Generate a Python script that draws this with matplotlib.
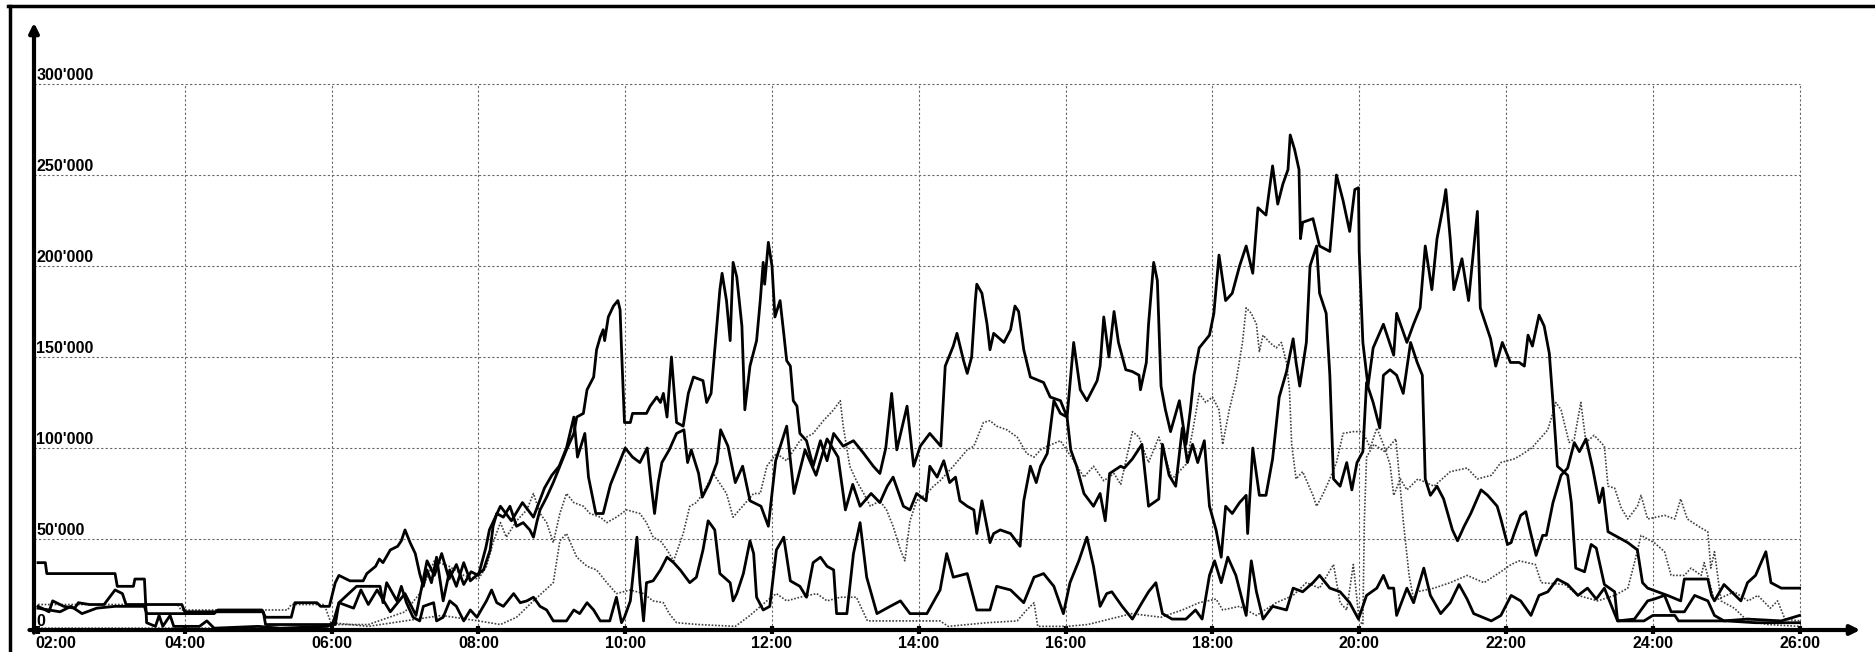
import matplotlib.pyplot as plt
from matplotlib.lines import Line2D
import matplotlib.transforms as mtransforms

plt.rcParams['font.family'] = ['Liberation Sans', 'DejaVu Sans']

# hour of day, value in thousands
series_a = [(2.0, 12), (2.3, 10), (2.45, 13), (2.6, 9), (2.8, 12), (3.05, 13), (3.45, 13), (3.48, 9), (4.4, 9),
            (4.45, 11), (5.05, 11), (5.1, 7), (5.45, 7), (5.5, 15), (5.8, 15), (5.85, 13), (5.97, 13), (6.0, 18),
            (6.05, 26), (6.1, 30), (6.25, 27), (6.43, 27), (6.48, 31), (6.6, 35), (6.65, 39), (6.7, 37), (6.8, 44),
            (6.9, 46), (6.95, 49), (7.0, 55), (7.07, 48), (7.14, 42), (7.2, 31), (7.25, 24), (7.3, 33), (7.36, 26),
            (7.43, 40), (7.52, 16), (7.61, 33), (7.7, 24), (7.8, 37), (7.89, 27), (8.0, 31), (8.07, 33), (8.16, 44),
            (8.2, 57), (8.25, 64), (8.34, 62), (8.43, 68), (8.52, 57), (8.61, 59), (8.7, 55), (8.75, 51), (8.8, 60),
            (8.84, 66), (8.93, 73), (9.02, 81), (9.11, 90), (9.2, 99), (9.3, 108), (9.34, 117), (9.43, 119),
            (9.48, 132), (9.57, 139), (9.61, 154), (9.66, 161), (9.7, 165), (9.72, 159), (9.77, 172), (9.84, 178),
            (9.9, 181), (9.93, 176), (9.95, 154), (9.99, 114), (10.07, 114), (10.1, 119), (10.29, 119), (10.34, 123),
            (10.43, 128), (10.48, 125), (10.52, 130), (10.57, 117), (10.63, 150), (10.7, 114), (10.79, 112),
            (10.86, 130), (10.93, 139), (11.06, 137), (11.11, 125), (11.17, 130), (11.22, 154), (11.29, 187),
            (11.32, 196), (11.38, 181), (11.43, 159), (11.45, 181), (11.47, 202), (11.52, 194), (11.59, 167),
            (11.63, 121), (11.7, 145), (11.79, 159), (11.84, 181), (11.88, 202), (11.9, 190), (11.95, 213),
            (12.0, 200), (12.04, 172), (12.11, 181), (12.16, 163), (12.2, 148), (12.25, 145), (12.29, 126),
            (12.34, 123), (12.38, 108), (12.47, 104), (12.56, 90), (12.66, 104), (12.75, 93), (12.84, 108),
            (12.97, 101), (13.11, 104), (13.25, 97), (13.38, 90), (13.47, 86), (13.55, 100), (13.63, 130),
            (13.7, 99), (13.84, 123), (13.93, 90), (14.02, 101), (14.15, 108), (14.3, 101), (14.36, 145),
            (14.47, 156), (14.52, 163), (14.61, 148), (14.66, 141), (14.72, 150), (14.77, 181), (14.79, 190),
            (14.86, 185), (14.93, 168), (14.97, 154), (15.02, 163), (15.16, 158), (15.25, 165), (15.31, 178),
            (15.36, 175), (15.43, 154), (15.52, 139), (15.7, 136), (15.79, 128), (15.93, 126), (16.02, 117),
            (16.11, 158), (16.2, 132), (16.29, 126), (16.43, 137), (16.47, 145), (16.52, 172), (16.59, 150),
            (16.66, 175), (16.72, 158), (16.82, 143), (16.91, 142), (17.0, 140), (17.02, 132), (17.1, 147),
            (17.13, 168), (17.2, 202), (17.25, 192), (17.3, 134), (17.36, 121), (17.43, 109), (17.55, 126),
            (17.64, 102), (17.7, 121), (17.75, 140), (17.82, 155), (17.96, 162), (18.02, 174), (18.09, 206),
            (18.18, 181), (18.27, 185), (18.37, 200), (18.46, 211), (18.55, 196), (18.62, 232), (18.73, 228),
            (18.82, 255), (18.89, 234), (18.96, 245), (19.03, 253), (19.06, 272), (19.12, 264), (19.18, 253),
            (19.2, 215), (19.23, 224), (19.37, 226), (19.46, 211), (19.6, 208), (19.69, 250), (19.78, 236),
            (19.87, 219), (19.94, 242), (19.99, 243), (20.0, 208), (20.05, 158), (20.12, 134), (20.19, 155),
            (20.33, 168), (20.47, 151), (20.51, 174), (20.65, 158), (20.74, 168), (20.83, 177), (20.9, 211),
            (20.99, 187), (21.06, 215), (21.15, 234), (21.18, 242), (21.24, 215), (21.29, 187), (21.4, 204),
            (21.49, 181), (21.61, 230), (21.65, 177), (21.79, 160), (21.86, 145), (21.95, 158), (22.06, 147),
            (22.18, 147), (22.25, 145), (22.3, 162), (22.36, 156), (22.45, 173), (22.52, 167), (22.59, 152),
            (22.64, 125), (22.7, 90), (22.84, 85), (22.89, 70), (22.95, 34), (23.07, 32), (23.16, 47), (23.23, 45),
            (23.34, 25), (23.48, 21), (23.52, 5), (23.88, 5), (24.0, 8), (24.3, 8), (24.35, 5), (25.0, 5),
            (25.4, 4), (26.0, 4)]

series_b = [(2.0, 13), (2.15, 10), (2.2, 16), (2.35, 13), (2.5, 12), (2.55, 15), (2.7, 14), (2.9, 14), (3.05, 22),
            (3.15, 20), (3.2, 14), (3.96, 14), (4.0, 10), (5.07, 10), (5.1, 3), (6.05, 3), (6.1, 15), (6.3, 12),
            (6.4, 22), (6.5, 14), (6.62, 22), (6.8, 10), (7.0, 20), (7.15, 8), (7.3, 38), (7.4, 30), (7.5, 42),
            (7.6, 28), (7.7, 36), (7.8, 25), (7.9, 32), (8.0, 30), (8.1, 45), (8.15, 55), (8.3, 68), (8.45, 60),
            (8.6, 70), (8.75, 62), (8.9, 78), (9.0, 85), (9.1, 90), (9.2, 100), (9.3, 117), (9.35, 95), (9.45, 108),
            (9.5, 84), (9.6, 64), (9.7, 64), (9.8, 80), (9.9, 90), (10.0, 100), (10.1, 95), (10.2, 92), (10.3, 100),
            (10.35, 81), (10.4, 64), (10.45, 81), (10.5, 92), (10.6, 99), (10.7, 108), (10.8, 110), (10.85, 92),
            (10.9, 99), (11.0, 86), (11.05, 73), (11.15, 81), (11.25, 92), (11.3, 110), (11.4, 101), (11.5, 81),
            (11.6, 90), (11.7, 71), (11.85, 68), (11.95, 57), (12.05, 93), (12.2, 112), (12.3, 75), (12.45, 99),
            (12.6, 85), (12.75, 105), (12.9, 95), (13.0, 66), (13.1, 80), (13.2, 68), (13.35, 75), (13.47, 70),
            (13.57, 79), (13.65, 84), (13.79, 68), (13.88, 66), (13.97, 75), (14.1, 71), (14.15, 90), (14.25, 84),
            (14.34, 93), (14.42, 81), (14.5, 84), (14.56, 71), (14.66, 68), (14.75, 66), (14.79, 53), (14.86, 71),
            (14.97, 48), (15.02, 53), (15.11, 55), (15.25, 53), (15.38, 46), (15.43, 71), (15.52, 90), (15.6, 81),
            (15.66, 90), (15.75, 97), (15.84, 126), (15.93, 119), (16.02, 117), (16.07, 99), (16.15, 90),
            (16.25, 75), (16.38, 68), (16.47, 75), (16.54, 60), (16.6, 86), (16.75, 90), (16.8, 89), (16.91, 94),
            (17.04, 102), (17.13, 68), (17.27, 72), (17.32, 102), (17.41, 85), (17.5, 79), (17.59, 111),
            (17.66, 92), (17.73, 102), (17.8, 92), (17.89, 104), (17.96, 68), (18.05, 55), (18.12, 40), (18.18, 68),
            (18.27, 64), (18.37, 70), (18.46, 74), (18.48, 53), (18.55, 100), (18.64, 74), (18.73, 74), (18.82, 94),
            (18.91, 128), (19.01, 142), (19.1, 160), (19.14, 147), (19.19, 134), (19.28, 158), (19.33, 200),
            (19.42, 211), (19.46, 185), (19.55, 174), (19.6, 140), (19.65, 83), (19.74, 79), (19.83, 92),
            (19.9, 77), (19.97, 92), (20.05, 98), (20.1, 136), (20.19, 125), (20.28, 111), (20.33, 140),
            (20.42, 143), (20.51, 140), (20.6, 130), (20.7, 158), (20.79, 147), (20.86, 140), (20.9, 83),
            (20.97, 74), (21.06, 79), (21.15, 72), (21.27, 55), (21.34, 49), (21.43, 57), (21.52, 64), (21.66, 77),
            (21.75, 74), (21.88, 68), (21.93, 61), (22.02, 47), (22.07, 48), (22.11, 53), (22.2, 63), (22.27, 65),
            (22.32, 56), (22.41, 41), (22.5, 52), (22.55, 52), (22.64, 70), (22.75, 85), (22.84, 89), (22.93, 103),
            (23.0, 98), (23.09, 105), (23.18, 89), (23.27, 70), (23.32, 78), (23.39, 54), (23.48, 52), (23.66, 48),
            (23.79, 44), (23.86, 26), (23.93, 23), (24.2, 19), (24.38, 16), (24.43, 28), (24.75, 28), (24.8, 19),
            (24.84, 16), (24.97, 25), (25.2, 16), (25.29, 26), (25.4, 30), (25.54, 43), (25.61, 26), (25.75, 23),
            (26.0, 23)]

series_c = [(2.0, 37), (2.1, 37), (2.12, 31), (3.05, 31), (3.08, 24), (3.3, 24), (3.32, 28), (3.45, 28), (3.48, 4),
            (3.6, 2), (3.65, 8), (3.7, 2), (3.8, 8), (3.85, 2), (4.2, 2), (4.3, 5), (4.4, 1), (5.0, 2), (5.3, 1),
            (5.95, 2), (6.02, 4), (6.1, 15), (6.34, 24), (6.66, 24), (6.7, 15), (6.75, 26), (6.89, 16), (6.95, 24),
            (7.02, 15), (7.11, 7), (7.2, 5), (7.25, 13), (7.39, 15), (7.43, 5), (7.52, 7), (7.61, 16), (7.7, 13),
            (7.8, 5), (7.89, 11), (7.98, 7), (8.11, 16), (8.18, 22), (8.25, 15), (8.34, 13), (8.48, 20), (8.57, 15),
            (8.66, 16), (8.75, 18), (8.84, 13), (8.93, 11), (9.02, 5), (9.2, 5), (9.3, 11), (9.38, 9), (9.48, 15),
            (9.57, 11), (9.66, 5), (9.79, 5), (9.88, 18), (9.95, 4), (9.99, 7), (10.07, 16), (10.16, 51), (10.2, 26),
            (10.25, 5), (10.29, 26), (10.38, 27), (10.48, 33), (10.57, 40), (10.66, 37), (10.75, 33), (10.88, 26),
            (10.97, 29), (11.06, 44), (11.13, 60), (11.22, 55), (11.29, 31), (11.43, 26), (11.47, 16), (11.52, 20),
            (11.61, 31), (11.7, 49), (11.75, 42), (11.79, 18), (11.88, 11), (11.97, 13), (12.06, 44), (12.16, 51),
            (12.25, 27), (12.38, 24), (12.47, 18), (12.56, 37), (12.66, 40), (12.75, 35), (12.84, 33), (12.88, 9),
            (13.02, 9), (13.11, 42), (13.2, 59), (13.29, 29), (13.43, 9), (13.61, 13), (13.75, 16), (13.88, 9),
            (14.11, 9), (14.29, 22), (14.38, 42), (14.47, 29), (14.66, 31), (14.79, 11), (14.97, 11), (15.06, 24),
            (15.25, 22), (15.43, 15), (15.57, 29), (15.7, 31), (15.84, 24), (15.97, 9), (16.06, 26), (16.18, 38),
            (16.29, 51), (16.38, 35), (16.47, 13), (16.56, 20), (16.63, 21), (16.77, 13), (16.91, 6), (17.04, 15),
            (17.13, 21), (17.23, 26), (17.32, 9), (17.45, 6), (17.64, 6), (17.77, 11), (17.86, 6), (17.96, 30),
            (18.03, 38), (18.12, 26), (18.21, 40), (18.32, 30), (18.46, 8), (18.53, 38), (18.6, 21), (18.69, 6),
            (18.82, 13), (19.01, 11), (19.1, 23), (19.23, 21), (19.37, 26), (19.46, 30), (19.6, 23), (19.74, 21),
            (19.87, 15), (19.99, 6), (20.1, 19), (20.24, 23), (20.33, 30), (20.4, 23), (20.47, 23), (20.51, 8),
            (20.65, 23), (20.74, 15), (20.88, 34), (20.97, 19), (21.11, 9), (21.24, 15), (21.36, 25), (21.47, 17),
            (21.56, 9), (21.8, 5), (21.93, 8), (22.07, 19), (22.2, 16), (22.34, 8), (22.45, 19), (22.57, 21),
            (22.7, 28), (22.84, 25), (22.98, 19), (23.11, 23), (23.23, 17), (23.34, 23), (23.45, 12), (23.52, 5),
            (23.75, 6), (23.93, 16), (24.02, 17), (24.16, 19), (24.25, 10), (24.43, 10), (24.57, 19), (24.75, 16),
            (24.84, 8), (24.97, 5), (25.29, 6), (25.75, 5), (26.0, 8)]

series_e = [(2.0, 14), (3.9, 14), (3.95, 11), (5.4, 11), (5.45, 14), (5.9, 14), (6.0, 3), (6.5, 3), (7.0, 10),
            (7.2, 20), (7.4, 38), (7.6, 35), (7.8, 30), (8.0, 28), (8.11, 35), (8.2, 48), (8.3, 59), (8.38, 51),
            (8.52, 60), (8.66, 66), (8.75, 75), (8.84, 64), (8.93, 59), (9.02, 48), (9.11, 64), (9.2, 75), (9.3, 70),
            (9.43, 68), (9.52, 64), (9.66, 62), (9.75, 59), (9.88, 62), (10.02, 66), (10.2, 64), (10.29, 59),
            (10.38, 51), (10.48, 49), (10.57, 44), (10.66, 38), (10.79, 53), (10.88, 68), (10.97, 70), (11.06, 75),
            (11.2, 86), (11.38, 75), (11.47, 62), (11.6, 68), (11.75, 75), (11.84, 75), (11.93, 90), (12.06, 97),
            (12.2, 93), (12.38, 104), (12.56, 108), (12.7, 115), (12.84, 121), (12.93, 126), (12.97, 112),
            (13.06, 90), (13.15, 82), (13.25, 75), (13.34, 68), (13.47, 71), (13.56, 66), (13.65, 57), (13.75, 44),
            (13.81, 38), (13.88, 60), (13.97, 71), (14.11, 75), (14.2, 79), (14.29, 82), (14.47, 90), (14.66, 99),
            (14.75, 101), (14.88, 114), (14.97, 115), (15.06, 112), (15.2, 110), (15.34, 106), (15.47, 97),
            (15.57, 95), (15.66, 99), (15.75, 101), (15.93, 104), (16.11, 93), (16.25, 84), (16.38, 90),
            (16.52, 82), (16.66, 86), (16.75, 80), (16.91, 109), (17.0, 106), (17.13, 92), (17.27, 106),
            (17.45, 83), (17.64, 91), (17.73, 109), (17.82, 130), (17.91, 125), (18.0, 128), (18.09, 121),
            (18.14, 102), (18.23, 121), (18.32, 136), (18.41, 158), (18.46, 177), (18.53, 174), (18.6, 168),
            (18.64, 153), (18.69, 162), (18.78, 158), (18.87, 155), (18.94, 158), (19.01, 147), (19.05, 132),
            (19.08, 102), (19.14, 83), (19.23, 87), (19.37, 74), (19.42, 68), (19.51, 75), (19.6, 83), (19.69, 92),
            (19.78, 108), (19.92, 109), (20.05, 109), (20.15, 100), (20.24, 111), (20.33, 102), (20.42, 91),
            (20.47, 74), (20.56, 83), (20.65, 77), (20.8, 83), (21.02, 79), (21.24, 87), (21.47, 89), (21.61, 83),
            (21.8, 85), (21.93, 92), (22.11, 94), (22.2, 96), (22.35, 100), (22.57, 110), (22.68, 125),
            (22.75, 121), (22.86, 103), (22.93, 105), (23.02, 125), (23.09, 103), (23.2, 107), (23.34, 101),
            (23.39, 79), (23.48, 78), (23.57, 67), (23.66, 61), (23.79, 68), (23.84, 74), (23.93, 61), (24.16, 63),
            (24.3, 61), (24.38, 72), (24.47, 61), (24.66, 56), (24.75, 54), (24.79, 34), (24.84, 43), (24.93, 16),
            (25.11, 12), (25.29, 5), (25.57, 3), (26.0, 2)]

series_f = [(2.0, 1), (5.9, 1), (6.0, 4), (6.5, 2), (7.0, 5), (7.5, 8), (8.0, 5), (8.3, 3), (8.52, 7), (8.75, 16),
            (9.02, 26), (9.11, 49), (9.2, 53), (9.34, 40), (9.48, 35), (9.61, 33), (9.75, 26), (9.88, 20),
            (10.07, 22), (10.25, 20), (10.38, 16), (10.52, 15), (10.6, 9), (10.7, 4), (11.0, 3), (11.5, 2),
            (11.7, 8), (11.93, 16), (12.06, 20), (12.2, 16), (12.38, 18), (12.61, 20), (12.75, 16), (12.93, 18),
            (13.15, 18), (13.3, 5), (14.29, 5), (14.4, 2), (14.93, 4), (15.34, 5), (15.47, 11), (15.57, 15),
            (15.62, 2), (16.02, 2), (16.3, 3), (16.9, 9), (17.3, 7), (17.59, 11), (17.82, 15), (18.05, 17),
            (18.14, 11), (18.37, 13), (18.6, 8), (18.87, 15), (19.1, 19), (19.28, 26), (19.46, 23), (19.65, 36),
            (19.74, 15), (19.83, 11), (19.92, 36), (20.0, 5), (20.05, 3), (20.07, 60), (20.1, 95), (20.2, 102),
            (20.35, 98), (20.5, 105), (20.6, 60), (20.68, 30), (20.75, 15), (20.79, 21), (21.02, 23), (21.24, 26),
            (21.47, 30), (21.7, 26), (21.93, 32), (22.07, 36), (22.18, 38), (22.4, 36), (22.48, 26), (22.8, 25),
            (22.98, 19), (23.25, 16), (23.48, 19), (23.66, 23), (23.75, 37), (23.84, 52), (24.02, 48), (24.16, 43),
            (24.25, 30), (24.43, 30), (24.52, 34), (24.66, 30), (24.7, 37), (24.84, 16), (25.11, 21), (25.3, 16),
            (25.43, 19), (25.6, 12), (25.7, 16), (25.8, 6), (26.0, 5)]

x_ticks = [2, 4, 6, 8, 10, 12, 14, 16, 18, 20, 22, 24, 26]
x_labels = ['02:00', '04:00', '06:00', '08:00', '10:00', '12:00', '14:00', '16:00', '18:00', '20:00', '22:00',
            '24:00', '26:00']
y_ticks = [0, 50, 100, 150, 200, 250, 300]
y_labels = ['0', "50'000", "100'000", "150'000", "200'000", "250'000", "300'000"]

W, H = 1875, 652
fig = plt.figure(figsize=(W / 100, H / 100), dpi=100)
x0, x1 = 34, 1863
y_top, y_bot = 20, 630
ax = fig.add_axes([x0 / W, 1 - y_bot / H, (x1 - x0) / W, (y_bot - y_top) / H])
xmin = 2 + (x0 - 38) / 73.4
xmax = 2 + (x1 - 38) / 73.4
ymax = (y_bot - y_top) / 91 * 50
ax.set_xlim(xmin, xmax)
ax.set_ylim(0, ymax)
for s in ax.spines.values():
    s.set_visible(False)

# dotted grid
for h in x_ticks[1:]:
    ax.vlines(h, 0, 300, color='0.4', lw=0.8, ls=(0, (2, 2)))
for v in y_ticks[1:]:
    ax.hlines(v, xmin, 26, color='0.4', lw=0.8, ls=(0, (2, 2)))

for data in [series_e, series_f]:
    t, v = zip(*data)
    ax.plot(t, v, color='0.25', lw=1.2, ls=(0, (1, 1)))
for data in [series_c, series_b, series_a]:
    t, v = zip(*data)
    ax.plot(t, v, color='black', lw=2.0)

# axes with arrows
ax.annotate('', xy=(xmax, 0), xytext=(xmin - 0.1, 0),
            arrowprops=dict(arrowstyle='-|>', lw=3, color='black', mutation_scale=14), annotation_clip=False)
ax.annotate('', xy=(xmin, ymax), xytext=(xmin, -3),
            arrowprops=dict(arrowstyle='-|>', lw=3, color='black', mutation_scale=14), annotation_clip=False)

ax.set_xticks(x_ticks)
ax.set_xticklabels(x_labels, fontweight='bold')
ax.set_yticks([])
ax.tick_params(axis='x', length=6, width=3, direction='inout', pad=1, labelsize=11.5)
# first label sits to the right of its tick in the original
first = ax.get_xticklabels()[0]
first.set_transform(first.get_transform() + mtransforms.ScaledTranslation(18 / 100, 0, fig.dpi_scale_trans))
for v, lab in zip(y_ticks, y_labels):
    ax.text(xmin + 0.03, v + 0.8, lab, ha='left', va='bottom', fontsize=11.5, fontweight='bold')

# scan frame
fig.add_artist(Line2D([0.004, 1.0], [1 - 6 / H] * 2, transform=fig.transFigure, color='black', lw=2.5))
fig.add_artist(Line2D([10 / W] * 2, [0, 1 - 6 / H], transform=fig.transFigure, color='black', lw=2.5))

fig.savefig('out.png', dpi=100)
